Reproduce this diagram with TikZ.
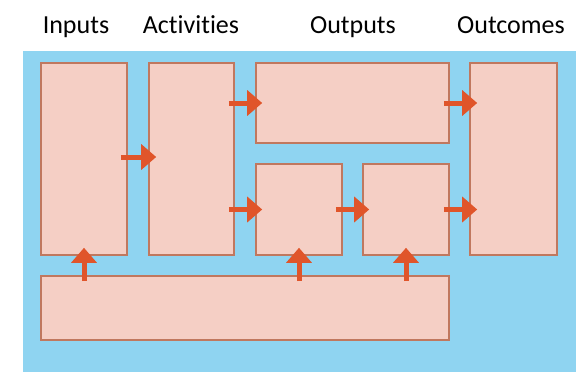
\documentclass[tikz,border=0pt]{standalone}
\usepackage{fontspec}
\setmainfont[Ligatures=NoCommon]{Carlito}
\usetikzlibrary{arrows.meta,calc}
\definecolor{bgblue}{HTML}{8FD4F1}
\definecolor{boxfill}{HTML}{F5CFC5}
\definecolor{boxline}{HTML}{C0785F}
\definecolor{arrcol}{HTML}{E0552A}
\begin{document}
\begin{tikzpicture}[x=1pt,y=-1pt,
  box/.style={draw=boxline,fill=boxfill,line width=1.6pt,inner sep=0pt,rectangle},
  arr/.style={draw=arrcol,line width=5pt,-{Triangle[width=25pt,length=15pt]}},
  lbl/.style={anchor=base,font=\fontsize{26}{30}\selectfont,inner sep=0pt}]
\useasboundingbox (0,0) rectangle (579,372);
\fill[bgblue] (23,51) rectangle (576,376);
\node[lbl] (tin) at (76,34) {Inputs};
\node[lbl] (tact) at (191,34) {Activities};
\node[lbl] (tout) at (353,34) {Outputs};
\node[lbl] (toc) at (511,34) {Outcomes};
\node[box,minimum width=86pt,minimum height=192pt] (inp) at (84,159) {};
\node[box,minimum width=85pt,minimum height=192pt] (act) at (191.5,159) {};
\node[box,minimum width=193pt,minimum height=80pt] (out1) at (352.5,103) {};
\node[box,minimum width=86pt,minimum height=91pt] (out2) at (299,209.5) {};
\node[box,minimum width=86pt,minimum height=91pt] (out3) at (406,209.5) {};
\node[box,minimum width=87pt,minimum height=192pt] (outc) at (513.5,159) {};
\node[box,minimum width=408pt,minimum height=64pt] (bot) at (245,308) {};
% horizontal arrows
\draw[arr] ([xshift=-7pt]inp.east |- 0,157) -- ([xshift=8pt]act.west |- 0,157);
\draw[arr] ([xshift=-6pt]act.east |- out1.center) -- ([xshift=7pt]out1.west);
\draw[arr] ([xshift=-6pt]act.east |- out2.center) -- ([xshift=7pt]out2.west);
\draw[arr] ([xshift=-7pt]out2.east) -- ([xshift=7pt]out3.west);
\draw[arr] ([xshift=-6pt]out1.east) -- ([xshift=8pt]outc.west |- out1.center);
\draw[arr] ([xshift=-6pt]out3.east) -- ([xshift=8pt]outc.west |- out3.center);
% vertical arrows
\draw[arr] ([yshift=-6pt]bot.north -| inp.south) -- ([yshift=8pt]inp.south);
\draw[arr] ([yshift=-6pt]bot.north -| out2.south) -- ([yshift=8pt]out2.south);
\draw[arr] ([yshift=-6pt]bot.north -| out3.south) -- ([yshift=8pt]out3.south);
\end{tikzpicture}
\end{document}
